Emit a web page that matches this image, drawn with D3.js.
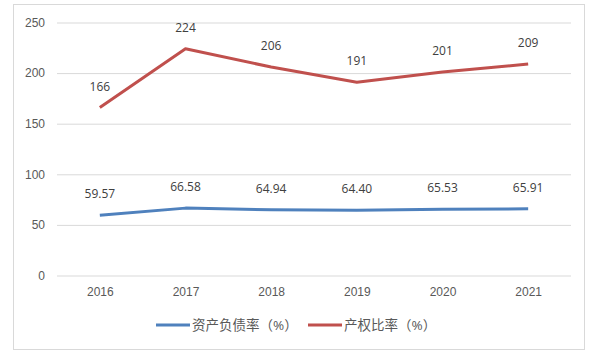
<!DOCTYPE html>
<html><head><meta charset="utf-8">
<script src="https://cdn.jsdelivr.net/npm/d3@7"></script>
<style>body{margin:0;background:#fff}svg{display:block;font-family:"Open Sans","Noto Sans CJK SC",sans-serif}</style>
</head><body><svg id="c" width="594" height="356"></svg>
<script>
const years = ["2016","2017","2018","2019","2020","2021"];
const debtRatio = [59.57, 66.58, 64.94, 64.40, 65.53, 65.91];
const equityRatio = [166, 224, 206, 191, 201, 209];
const yTicks = [0, 50, 100, 150, 200, 250];
const seriesNames = ["资产负债率（%）", "产权比率（%）"];
const debtLabels = ["59.57","66.58","64.94","64.40","65.53","65.91"];
const equityLabels = ["166","224","206","191","201","209"];

const svg = d3.select("#c");
svg.append("rect").attr("x",13.5).attr("y",4.5).attr("width",571).attr("height",345)
  .attr("fill","#fff").attr("stroke","#d9d9d9");

const x = d3.scalePoint().domain(years).range([57,571]).padding(0.5);
const y = d3.scaleLinear().domain([0,250]).range([275.5,22.5]);

const yAxis = svg.append("g").attr("transform","translate(57,0)")
  .call(d3.axisLeft(y).tickValues(yTicks).tickSize(-514).tickPadding(12));
yAxis.select(".domain").remove();
yAxis.selectAll("line").attr("stroke","#d9d9d9");
yAxis.selectAll("text").attr("fill","#595959").attr("font-size",12);

const xAxis = svg.append("g").attr("transform","translate(0,275.5)")
  .call(d3.axisBottom(x).tickSize(0).tickPadding(12));
xAxis.select(".domain").remove();
xAxis.selectAll("text").attr("fill","#595959").attr("font-size",12);

const series = [
  {vals: debtRatio, labels: debtLabels, color:"#4f81bd"},
  {vals: equityRatio, labels: equityLabels, color:"#c0504d"}
];
const line = d3.line().x((d,i)=>x(years[i])).y(d=>y(d));
series.forEach(s=>{
  svg.append("path").datum(s.vals).attr("d",line).attr("fill","none")
    .attr("stroke",s.color).attr("stroke-width",3).attr("stroke-linejoin","round");
  svg.append("g").selectAll("text").data(s.vals).join("text")
    .attr("x",(d,i)=>x(years[i])).attr("y",d=>y(d)-17)
    .attr("text-anchor","middle").attr("fill","#404040").attr("font-size",12)
    .text((d,i)=>s.labels[i]);
});

const legend = [
  {name: seriesNames[0], color:"#4f81bd", x0:156},
  {name: seriesNames[1], color:"#c0504d", x0:308}
];
legend.forEach(l=>{
  svg.append("line").attr("x1",l.x0).attr("x2",l.x0+34).attr("y1",325).attr("y2",325)
    .attr("stroke",l.color).attr("stroke-width",3);
  svg.append("text").attr("x",l.x0+36).attr("y",330).attr("fill","#595959")
    .attr("font-size",13.5).text(l.name);
});
</script></body></html>
